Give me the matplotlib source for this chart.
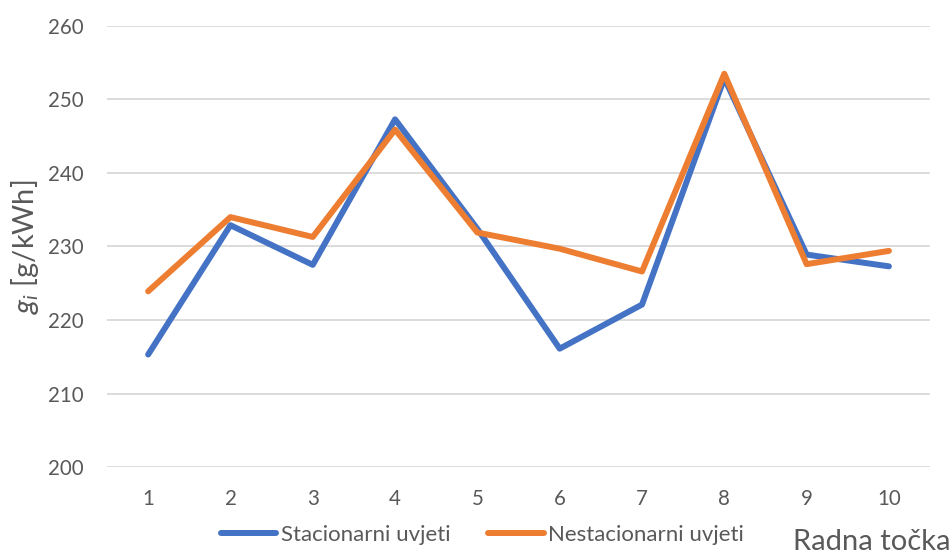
import matplotlib.pyplot as plt

# radne tocke
tocke = ['1', '2', '3', '4', '5', '6', '7', '8', '9', '10']
stacionarni = [215.3, 232.9, 227.5, 247.3, 232.4, 216.1, 222.1, 252.9, 228.9, 227.3]
nestacionarni = [223.9, 234.0, 231.3, 245.9, 231.9, 229.7, 226.6, 253.5, 227.6, 229.4]
y_ticks = [200, 210, 220, 230, 240, 250, 260]

plt.rcParams['font.family'] = ['Lato', 'DejaVu Sans']
plt.rcParams['mathtext.fontset'] = 'custom'
plt.rcParams['mathtext.it'] = 'Lato:italic'
plt.rcParams['mathtext.rm'] = 'Lato'

siva = '#595959'

fig = plt.figure(figsize=(9.51, 5.53), dpi=100)
ax = fig.add_axes([0.1125, 0.1555, 0.8655, 0.7975])

x = list(range(len(tocke)))
ax.plot(x, stacionarni, color='#4472C4', lw=4.3, solid_capstyle='round',
        label='Stacionarni uvjeti', zorder=3)
ax.plot(x, nestacionarni, color='#ED7D31', lw=4.3, solid_capstyle='round',
        label='Nestacionarni uvjeti', zorder=4)

ax.set_xlim(-0.5, len(tocke) - 0.5)
ax.set_ylim(200, 260)
ax.set_xticks(x)
ax.set_xticklabels(tocke)
ax.set_yticks(y_ticks)
ax.tick_params(length=0, labelsize=14.8, colors=siva)
ax.tick_params(axis='x', pad=16)
ax.tick_params(axis='y', pad=16.5)
ax.grid(axis='y', color='#D9D9D9', lw=1.3)
ax.set_axisbelow(True)
for s in ax.spines.values():
    s.set_visible(False)

ax.set_ylabel(r'$g_i$ [g/kWh]', fontsize=21, color=siva)
ax.yaxis.set_label_coords(-0.08, 0.5)

fig.text(0.999, 0.006, 'Radna točka', ha='right', va='baseline', fontsize=21, color=siva)

leg = ax.legend(loc='center', bbox_to_anchor=(0.456, -0.154), ncol=2, frameon=False,
                fontsize=16, handlelength=2.5, handletextpad=0.2, columnspacing=1.7)
for t in leg.get_texts():
    t.set_color(siva)

fig.savefig('out.png', dpi=100)
